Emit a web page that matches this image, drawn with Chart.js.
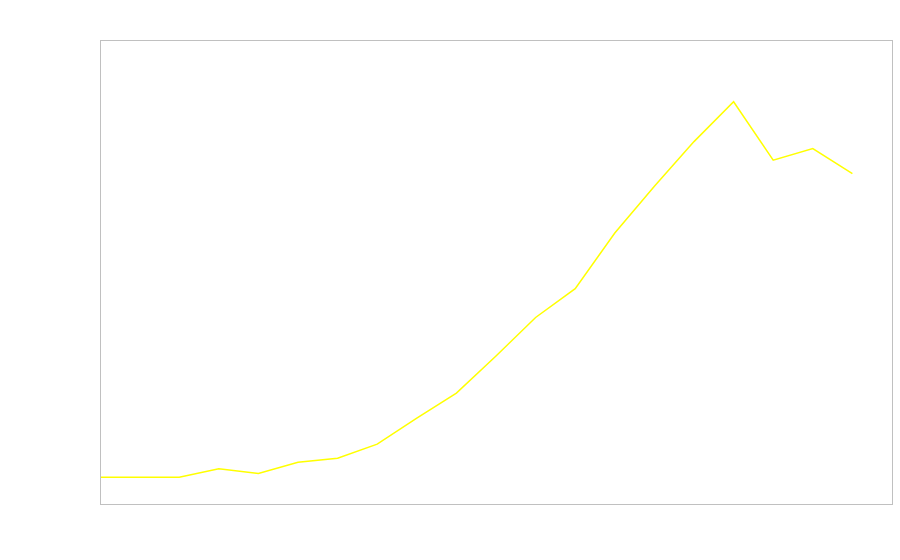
<!DOCTYPE html>
<html lang="en">
<head>
  <meta charset="UTF-8">
  <script src="https://cdn.jsdelivr.net/npm/chart.js"></script>
  <title>Chart</title>
  <style>
    html, body { margin: 0; padding: 0; background: #fff; }
  </style>
</head>
<body>
  <canvas id="chart" width="900" height="560"></canvas>
  <script>
    // x positions (no labels shown in the original)
    const labels = ['1','2','3','4','5','6','7','8','9','10','11','12','13','14','15','16','17','18','19','20','21']
    // series values (0..100 scale)
    const values = [5.75, 5.75, 5.75, 7.6, 6.6, 9.0, 9.85, 12.9, 18.5, 23.9, 31.9, 40.2, 46.4, 58.4, 68.5, 78.1, 86.7, 74.1, 76.6, 71.2, null]
    const yMin = 0
    const yMax = 100

    // draws the grey frame round the plot area
    const frame = {
      id: 'frame',
      afterDraw(chart) {
        const a = chart.chartArea
        const ctx = chart.ctx
        ctx.save()
        ctx.strokeStyle = '#c0c0c0'
        ctx.lineWidth = 1
        ctx.strokeRect(Math.round(a.left) + 0.5, Math.round(a.top) + 0.5, Math.round(a.right - a.left), Math.round(a.bottom - a.top))
        ctx.restore()
      }
    }

    const ctx = document.getElementById('chart')
    new Chart(ctx, {
      type: 'line',
      data: {
        labels: labels,
        datasets: [{
          data: values,
          borderColor: '#ffff00',
          borderWidth: 1.5,
          pointRadius: 0,
          tension: 0,
          fill: false
        }]
      },
      options: {
        responsive: false,
        animation: false,
        layout: { padding: { left: 100, top: 40, right: 8, bottom: 56 } },
        plugins: { legend: { display: false }, tooltip: { enabled: false } },
        scales: {
          x: {
            offset: false,
            grid: { display: false, drawTicks: false },
            border: { display: false },
            ticks: { display: false }
          },
          y: {
            min: yMin,
            max: yMax,
            grid: { display: false, drawTicks: false },
            border: { display: false },
            ticks: { display: false }
          }
        }
      },
      plugins: [frame]
    })
  </script>
</body>
</html>
